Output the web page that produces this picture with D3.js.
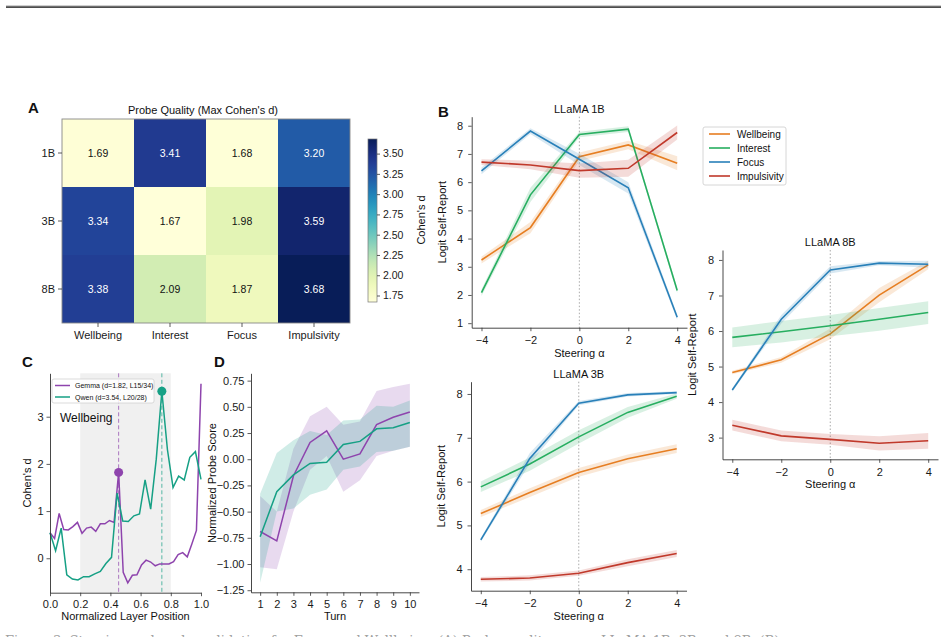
<!DOCTYPE html>
<html>
<head>
<meta charset="utf-8">
<script src="https://cdn.jsdelivr.net/npm/d3@7"></script>
<style>
  body { margin: 0; background: #fff; }
</style>
</head>
<body>
<div id="fig"></div>
<script>
// ---- data ----
const models = ['1B', '3B', '8B'];
const probes = ['Wellbeing', 'Interest', 'Focus', 'Impulsivity'];
const cohenD = [
    [1.69, 3.41, 1.68, 3.20],
    [3.34, 1.67, 1.98, 3.59],
    [3.38, 2.09, 1.87, 3.68]
];
const cbarTicks = [1.75, 2.00, 2.25, 2.50, 2.75, 3.00, 3.25, 3.50];

const alphas = [-4, -2, 0, 2, 4];
// rows follow probes order
const llama1bMean = [
    [3.24, 4.39, 6.90, 7.32, 6.67],
    [2.08, 5.55, 7.69, 7.88, 2.16],
    [6.40, 7.81, 6.81, 5.80, 1.21],
    [6.71, 6.61, 6.41, 6.49, 7.76]
];
const llama1bErr = [
    [0.12, 0.20, 0.15, 0.15, 0.25],
    [0.12, 0.25, 0.10, 0.10, 0.10],
    [0.12, 0.10, 0.20, 0.20, 0.10],
    [0.10, 0.15, 0.25, 0.30, 0.25]
];
const llama3bMean = [
    [5.27, 5.75, 6.21, 6.52, 6.75],
    [5.88, 6.40, 7.02, 7.58, 7.95],
    [4.67, 6.53, 7.79, 7.98, 8.03],
    [3.77, 3.80, 3.91, 4.15, 4.36]
];
const llama3bErr = [
    [0.08, 0.10, 0.10, 0.10, 0.10],
    [0.12, 0.15, 0.15, 0.12, 0.06],
    [0.04, 0.12, 0.05, 0.04, 0.03],
    [0.05, 0.06, 0.06, 0.08, 0.08]
];
const llama8bMean = [
    [4.83, 5.19, 5.92, 7.01, 7.86],
    [5.82, 5.98, 6.15, 6.33, 6.52],
    [4.34, 6.33, 7.72, 7.91, 7.88],
    [3.35, 3.05, 2.95, 2.84, 2.91]
];
const llama8bErr = [
    [0.05, 0.08, 0.15, 0.20, 0.12],
    [0.28, 0.30, 0.30, 0.32, 0.32],
    [0.05, 0.12, 0.10, 0.06, 0.10],
    [0.15, 0.15, 0.15, 0.20, 0.22]
];

// panel C: Cohen's d per layer (Wellbeing)
const gemmaLayers = [0.54, 0.42, 0.95, 0.61, 0.60, 0.67, 0.76, 0.53, 0.64, 0.66, 0.57, 0.73, 0.73, 0.80, 0.76,
    1.82, -0.30, -0.52, -0.36, -0.35, -0.14, -0.04, -0.08, -0.16, -0.12, -0.12, -0.12, -0.07, 0.08, 0.12,
    0.03, 0.30, 0.59, 3.70];
const qwenLayers = [0.54, 0.16, 0.64, -0.35, -0.44, -0.46, -0.39, -0.39, -0.33, -0.28, -0.11, 0.02, 1.38,
    0.79, 0.78, 0.90, 0.94, 1.66, 1.04, 2.10, 3.54, 2.30, 1.50, 1.74, 1.66, 2.14, 2.26, 1.67];
const gemmaBest = 15, qwenBest = 20;

// panel D: probe score per turn
const turns = [1, 2, 3, 4, 5, 6, 7, 8, 9, 10];
const gemmaTurn = [-0.69, -0.78, -0.16, 0.16, 0.27, 0.00, 0.05, 0.33, 0.40, 0.45];
const gemmaLo = [-1.03, -1.05, -0.50, -0.10, 0.03, -0.31, -0.20, 0.03, 0.08, 0.12];
const gemmaHi = [-0.35, -0.50, 0.10, 0.41, 0.50, 0.33, 0.36, 0.65, 0.69, 0.72];
const qwenTurn = [-0.74, -0.31, -0.15, -0.04, -0.03, 0.14, 0.17, 0.29, 0.30, 0.35];
const qwenLo = [-1.18, -0.50, -0.47, -0.34, -0.29, -0.10, -0.07, 0.07, 0.08, 0.12];
const qwenHi = [-0.33, 0.06, 0.18, 0.27, 0.23, 0.37, 0.38, 0.51, 0.50, 0.56];

// ---- setup ----
const FONT = '"Liberation Sans", Arial, Helvetica, sans-serif';
const probeColors = ['#e67e22', '#27ae60', '#2980b9', '#c0392b'];
const gemmaColor = '#8e44ad', qwenColor = '#16a085';

const svg = d3.select('#fig').append('svg')
    .attr('width', 948).attr('height', 637)
    .style('font-family', FONT);

// page rule at the top
svg.append('rect').attr('x', 6).attr('y', 5.4).attr('width', 935).attr('height', 0.9).attr('fill', '#b0b0b0');
svg.append('rect').attr('x', 6).attr('y', 6.4).attr('width', 935).attr('height', 1.4).attr('fill', '#222');

function addAxis(gen, transform, size = 11) {
    const g = svg.append('g').attr('transform', transform).call(gen);
    g.attr('font-family', FONT).attr('font-size', size);
    g.select('.domain').attr('stroke', '#333').attr('stroke-width', 0.9);
    g.selectAll('.tick line').attr('stroke', '#333').attr('stroke-width', 0.8);
    g.selectAll('.tick text').attr('fill', '#1a1a1a');
    return g;
}

function text(x, y, str, size, opts = {}) {
    const t = svg.append('text').attr('x', x).attr('y', y)
        .attr('font-size', size).attr('fill', opts.fill || '#111')
        .attr('text-anchor', opts.anchor || 'middle')
        .text(str);
    if (opts.bold) t.attr('font-weight', 'bold');
    if (opts.rotate) t.attr('transform', `rotate(${opts.rotate},${x},${y})`);
    return t;
}

// ---- panel A: heatmap ----
const hx = d3.scaleBand(probes, [62, 350]);
const hy = d3.scaleBand(models, [119, 323]);
const vmin = 1.67, vmax = 3.68;
const color = d3.scaleSequential(d3.interpolateYlGnBu).domain([vmin, vmax]);

const cells = [];
models.forEach((m, i) => probes.forEach((p, j) => cells.push({ m, p, v: cohenD[i][j] })));

svg.append('g').selectAll('rect').data(cells).join('rect')
    .attr('x', d => hx(d.p)).attr('y', d => hy(d.m))
    .attr('width', hx.bandwidth()).attr('height', hy.bandwidth())
    .attr('fill', d => color(d.v));
svg.append('g').selectAll('text').data(cells).join('text')
    .attr('x', d => hx(d.p) + hx.bandwidth() / 2)
    .attr('y', d => hy(d.m) + hy.bandwidth() / 2 + 4)
    .attr('text-anchor', 'middle').attr('font-size', 10.5)
    .attr('fill', d => (d.v - vmin) / (vmax - vmin) > 0.5 ? '#fff' : '#111')
    .text(d => d.v.toFixed(2));
svg.append('rect').attr('x', 62).attr('y', 119).attr('width', 288).attr('height', 204)
    .attr('fill', 'none').attr('stroke', '#888').attr('stroke-width', 0.9);

addAxis(d3.axisLeft(hy).tickSize(4).tickPadding(3).tickSizeOuter(0), 'translate(62,0)')
    .select('.domain').remove();
addAxis(d3.axisBottom(hx).tickSize(4).tickPadding(4).tickSizeOuter(0), 'translate(0,323)')
    .select('.domain').remove();

text(203, 114, "Probe Quality (Max Cohen's d)", 11);
text(28, 113, 'A', 15, { anchor: 'start', bold: true });

// colorbar
const cbY = d3.scaleLinear([vmin, vmax], [302, 139]);
const grad = svg.append('defs').append('linearGradient').attr('id', 'cbar')
    .attr('x1', 0).attr('y1', 1).attr('x2', 0).attr('y2', 0);
d3.range(0, 1.0001, 0.05).forEach(t => grad.append('stop')
    .attr('offset', t).attr('stop-color', d3.interpolateYlGnBu(t)));
svg.append('rect').attr('x', 368).attr('y', 139).attr('width', 9).attr('height', 163)
    .attr('fill', 'url(#cbar)').attr('stroke', '#777').attr('stroke-width', 0.7);
addAxis(d3.axisRight(cbY).tickValues(cbarTicks).tickFormat(d3.format('.2f'))
    .tickSize(3).tickPadding(3).tickSizeOuter(0), 'translate(377,0)', 10.5)
    .select('.domain').remove();
text(425, 220, "Cohen's d", 11, { rotate: -90 });

// ---- panel B: steering ----
function steeringPanel(box, yDomain, yTicks, mean, err, title) {
    const x = d3.scaleLinear([-4.4, 4.4], [box.x0, box.x1]);
    const y = d3.scaleLinear(yDomain, [box.y1, box.y0]);
    svg.append('line')
        .attr('x1', x(0)).attr('x2', x(0)).attr('y1', box.y0).attr('y2', box.y1)
        .attr('stroke', '#aaa').attr('stroke-width', 1).attr('stroke-dasharray', '1.5,2');
    probes.forEach((p, k) => {
        const band = d3.area()
            .x((d, i) => x(alphas[i]))
            .y0((d, i) => y(mean[k][i] - err[k][i]))
            .y1((d, i) => y(mean[k][i] + err[k][i]));
        svg.append('path').attr('d', band(mean[k]))
            .attr('fill', probeColors[k]).attr('fill-opacity', 0.18);
        const line = d3.line().x((d, i) => x(alphas[i])).y(d => y(d));
        svg.append('path').attr('d', line(mean[k]))
            .attr('fill', 'none').attr('stroke', probeColors[k]).attr('stroke-width', 1.6);
    });
    addAxis(d3.axisBottom(x).tickValues(alphas).tickFormat(d3.format('d'))
        .tickSize(3.5).tickPadding(5).tickSizeOuter(0), `translate(0,${box.y1})`);
    addAxis(d3.axisLeft(y).tickValues(yTicks).tickFormat(d3.format('d'))
        .tickSize(3.5).tickPadding(5).tickSizeOuter(0), `translate(${box.x0},0)`);
    text((x(-4) + x(4)) / 2, box.y1 + 29, 'Steering α', 11);
    text(box.x0 - 26, (box.y0 + box.y1) / 2, 'Logit Self-Report', 11, { rotate: -90 });
    text((x(-4) + x(4)) / 2, box.y0 - 4, title, 11);
}

steeringPanel({ x0: 471.7, x1: 687, y0: 116.7, y1: 327.7 }, [0.84, 8.32],
    [1, 2, 3, 4, 5, 6, 7, 8], llama1bMean, llama1bErr, 'LLaMA 1B');
steeringPanel({ x0: 471, x1: 686.5, y0: 381.7, y1: 590.7 }, [3.51, 8.28],
    [4, 5, 6, 7, 8], llama3bMean, llama3bErr, 'LLaMA 3B');
steeringPanel({ x0: 722.5, x1: 938, y0: 250, y1: 459.3 }, [2.39, 8.28],
    [3, 4, 5, 6, 7, 8], llama8bMean, llama8bErr, 'LLaMA 8B');
text(438, 117, 'B', 15, { anchor: 'start', bold: true });

// legend for B
svg.append('rect').attr('x', 703).attr('y', 127).attr('width', 83).attr('height', 58)
    .attr('fill', '#fff').attr('stroke', '#ccc').attr('stroke-width', 0.8).attr('rx', 2);
probes.forEach((p, k) => {
    const ly = 134 + k * 14;
    svg.append('line').attr('x1', 709).attr('x2', 730).attr('y1', ly).attr('y2', ly)
        .attr('stroke', probeColors[k]).attr('stroke-width', 1.6);
    text(737, ly + 3.5, p, 10, { anchor: 'start' });
});

// ---- panel C: layer sweep ----
{
    const x = d3.scaleLinear([0, 1], [50, 201]);
    const y = d3.scaleLinear([-0.73, 3.92], [592.7, 373.3]);
    svg.append('rect').attr('x', x(0.2)).attr('y', 373.3)
        .attr('width', x(0.8) - x(0.2)).attr('height', 592.7 - 373.3).attr('fill', '#f0f0f0');
    const gx = (d, i) => x(i / (gemmaLayers.length - 1));
    const qx = (d, i) => x(i / (qwenLayers.length - 1));
    [[gemmaBest / (gemmaLayers.length - 1), gemmaColor], [qwenBest / (qwenLayers.length - 1), qwenColor]]
        .forEach(([v, c]) => svg.append('line')
            .attr('x1', x(v)).attr('x2', x(v)).attr('y1', 373.3).attr('y2', 592.7)
            .attr('stroke', c).attr('stroke-opacity', 0.7).attr('stroke-width', 1)
            .attr('stroke-dasharray', '4,2.5'));
    svg.append('path').attr('d', d3.line().x(gx).y(d => y(d))(gemmaLayers))
        .attr('fill', 'none').attr('stroke', gemmaColor).attr('stroke-width', 1.5);
    svg.append('path').attr('d', d3.line().x(qx).y(d => y(d))(qwenLayers))
        .attr('fill', 'none').attr('stroke', qwenColor).attr('stroke-width', 1.5);
    svg.append('circle').attr('cx', gx(0, gemmaBest)).attr('cy', y(gemmaLayers[gemmaBest]))
        .attr('r', 4.5).attr('fill', gemmaColor);
    svg.append('circle').attr('cx', qx(0, qwenBest)).attr('cy', y(qwenLayers[qwenBest]))
        .attr('r', 4.5).attr('fill', qwenColor);

    addAxis(d3.axisBottom(x).tickValues([0, 0.2, 0.4, 0.6, 0.8, 1.0]).tickFormat(d3.format('.1f'))
        .tickSize(3.5).tickPadding(4).tickSizeOuter(0), 'translate(0,592.7)');
    addAxis(d3.axisLeft(y).tickValues([0, 1, 2, 3]).tickFormat(d3.format('d'))
        .tickSize(3.5).tickPadding(3).tickSizeOuter(0), 'translate(50,0)');

    svg.append('rect').attr('x', 52).attr('y', 379).attr('width', 102).attr('height', 24)
        .attr('fill', '#fff').attr('fill-opacity', 0.85).attr('stroke', '#ccc').attr('stroke-width', 0.7).attr('rx', 2);
    [['Gemma (d=1.82, L15/34)', gemmaColor], ['Qwen (d=3.54, L20/28)', qwenColor]].forEach(([s, c], k) => {
        const ly = 385.5 + k * 11.5;
        svg.append('line').attr('x1', 55).attr('x2', 70).attr('y1', ly).attr('y2', ly)
            .attr('stroke', c).attr('stroke-width', 1.5);
        text(75, ly + 2.5, s, 7, { anchor: 'start' });
    });
    text(60, 422, 'Wellbeing', 12, { anchor: 'start' });
    text(125.5, 620, 'Normalized Layer Position', 11);
    text(31, 483, "Cohen's d", 11, { rotate: -90 });
    text(22, 367, 'C', 15, { anchor: 'start', bold: true });
}

// ---- panel D: turns ----
{
    const x = d3.scaleLinear([0.45, 10.55], [251, 419]);
    const y = d3.scaleLinear([-1.27, 0.82], [592.3, 373.3]);
    const band = (lo, hi) => d3.area().x((d, i) => x(turns[i]))
        .y0((d, i) => y(lo[i])).y1((d, i) => y(hi[i]))(turns);
    svg.append('path').attr('d', band(gemmaLo, gemmaHi)).attr('fill', gemmaColor).attr('fill-opacity', 0.2);
    svg.append('path').attr('d', band(qwenLo, qwenHi)).attr('fill', qwenColor).attr('fill-opacity', 0.2);
    const line = d3.line().x((d, i) => x(turns[i])).y(d => y(d));
    svg.append('path').attr('d', line(gemmaTurn)).attr('fill', 'none')
        .attr('stroke', gemmaColor).attr('stroke-width', 1.5);
    svg.append('path').attr('d', line(qwenTurn)).attr('fill', 'none')
        .attr('stroke', qwenColor).attr('stroke-width', 1.5);

    addAxis(d3.axisBottom(x).tickValues(turns).tickFormat(d3.format('d'))
        .tickSize(3.5).tickPadding(4).tickSizeOuter(0), 'translate(0,592.3)');
    addAxis(d3.axisLeft(y).tickValues([-1.25, -1.0, -0.75, -0.5, -0.25, 0, 0.25, 0.5, 0.75])
        .tickFormat(d3.format('.2f')).tickSize(3.5).tickPadding(3).tickSizeOuter(0), 'translate(251,0)');
    text(335, 620, 'Turn', 11);
    text(216, 483, 'Normalized Probe Score', 11, { rotate: -90 });
    text(214, 367, 'D', 15, { anchor: 'start', bold: true });
}

// caption, cut off by the bottom edge of the page
text(5, 645, "Figure 3: Steering and probe validation for Focus and Wellbeing. (A) Probe quality across LLaMA 1B, 3B, and 8B. (B)",
    13, { anchor: 'start', fill: '#a0a0a0' }).attr('font-family', '"DejaVu Serif", serif');
</script>
</body>
</html>
